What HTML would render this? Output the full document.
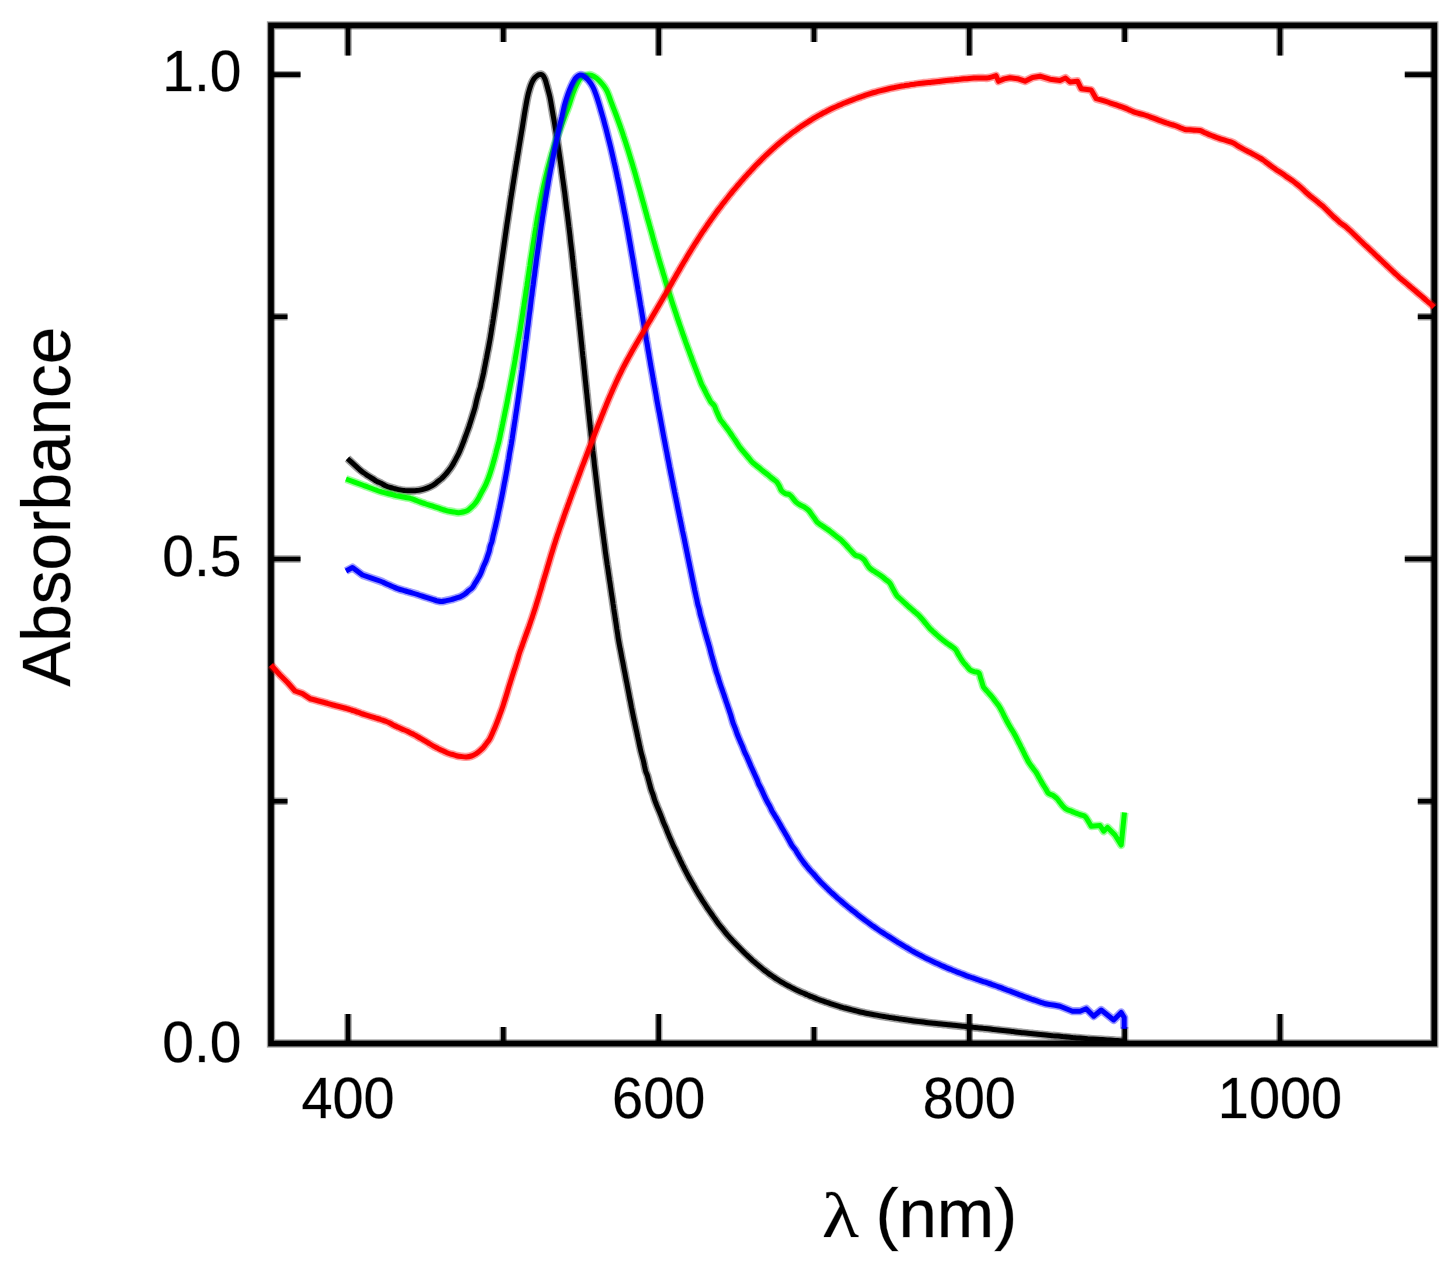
<!DOCTYPE html>
<html lang="en">
<head>
<meta charset="utf-8">
<title>Absorbance spectra</title>
<style>
html,body{margin:0;padding:0;background:#fff;}
body{width:1455px;height:1266px;overflow:hidden;}
svg{display:block;}
</style>
</head>
<body>
<svg width="1455" height="1266" viewBox="0 0 1455 1266">
<defs>
<path id="ticks" d="M348.0 25.4V55.4M348.0 1043.5V1014.0M658.7 25.4V55.4M658.7 1043.5V1014.0M969.3 25.4V55.4M969.3 1043.5V1014.0M1280.0 25.4V55.4M1280.0 1043.5V1014.0M503.3 25.4V41.9M503.3 1043.5V1027.0M814.0 25.4V41.9M814.0 1043.5V1027.0M1124.7 25.4V41.9M1124.7 1043.5V1027.0M271.0 559.0H300.5M1434.3 559.0H1404.8M271.0 74.6H300.5M1434.3 74.6H1404.8M271.0 801.3H287.5M1434.3 801.3H1417.8M271.0 316.8H287.5M1434.3 316.8H1417.8"/>
<rect id="frame" x="271.0" y="25.4" width="1163.3" height="1018.1"/>
<path id="c-black" d="M347.5 458.5C349.6 460.4 357.2 467.6 360.0 470.0C362.8 472.4 362.7 472.0 364.0 473.0C365.4 473.9 366.7 475.0 368.1 475.9C369.5 476.8 370.9 477.6 372.4 478.5C373.8 479.3 375.1 480.4 376.5 481.2C378.0 482.0 379.6 482.6 381.1 483.3C382.6 484.1 384.0 485.0 385.5 485.7C387.0 486.4 388.6 487.0 390.2 487.5C391.8 488.0 393.4 488.3 395.0 488.7C396.6 489.1 398.2 489.6 399.9 489.9C401.5 490.3 403.2 490.4 404.8 490.6C406.5 490.7 408.2 490.8 409.8 490.8C411.5 490.8 413.2 490.8 414.9 490.7C416.5 490.5 418.2 490.4 419.8 490.1C421.5 489.8 423.1 489.4 424.7 488.9C426.2 488.4 427.8 487.8 429.4 487.1C430.9 486.4 432.5 485.6 433.8 484.7C435.2 483.8 436.4 482.6 437.7 481.6C439.0 480.5 440.4 479.6 441.6 478.5C442.9 477.4 444.0 476.2 445.1 474.9C446.2 473.7 447.3 472.4 448.3 471.0C449.4 469.7 450.4 468.4 451.3 467.0C452.2 465.6 453.0 464.2 453.8 462.7C454.7 461.3 455.5 459.8 456.2 458.3C457.0 456.8 457.7 455.4 458.5 453.9C459.2 452.4 459.9 450.9 460.5 449.3C461.2 447.8 461.8 446.2 462.4 444.6C463.0 443.1 463.6 441.5 464.2 440.0C464.7 438.4 465.3 436.8 465.9 435.3C466.5 433.7 467.0 432.1 467.6 430.6C468.2 429.0 468.7 427.4 469.3 425.8C469.8 424.3 470.3 422.7 470.8 421.1C471.3 419.5 471.8 417.9 472.3 416.3C472.8 414.7 473.3 413.1 473.8 411.5C474.3 409.9 474.8 408.4 475.2 406.7C475.6 405.1 475.9 403.5 476.3 401.8C476.7 400.2 477.1 398.6 477.5 397.0C477.9 395.4 478.3 393.8 478.8 392.2C479.2 390.6 479.8 389.0 480.3 387.4C480.7 385.8 480.9 384.1 481.3 382.5C481.7 380.9 482.2 379.3 482.5 377.6C482.9 376.0 483.2 374.4 483.6 372.8C483.9 371.1 484.2 369.5 484.5 367.9C484.9 366.2 485.2 364.6 485.5 362.9C485.8 361.3 486.1 359.7 486.5 358.0C486.8 356.4 487.1 354.8 487.4 353.1C487.7 351.5 488.1 349.9 488.4 348.2C488.7 346.6 489.0 345.0 489.3 343.3C489.6 341.7 489.9 340.0 490.2 338.4C490.5 336.8 490.7 335.1 491.0 333.5C491.3 331.8 491.5 330.2 491.8 328.5C492.0 326.9 492.3 325.2 492.6 323.6C492.8 321.9 493.1 320.3 493.4 318.6C493.6 317.0 493.9 315.4 494.1 313.7C494.4 312.1 494.7 310.4 494.9 308.8C495.2 307.1 495.4 305.5 495.7 303.8C495.9 302.2 496.2 300.5 496.4 298.9C496.6 297.2 496.9 295.6 497.1 293.9C497.3 292.3 497.6 290.6 497.8 289.0C498.0 287.3 498.3 285.7 498.5 284.0C498.7 282.4 499.0 280.7 499.2 279.1C499.4 277.4 499.7 275.8 499.9 274.1C500.1 272.5 500.4 270.8 500.6 269.2C500.8 267.5 501.1 265.9 501.3 264.2C501.5 262.6 501.8 260.9 502.0 259.3C502.2 257.6 502.5 256.0 502.7 254.3C502.9 252.7 503.2 251.0 503.4 249.4C503.6 247.7 503.9 246.1 504.1 244.4C504.3 242.8 504.6 241.1 504.8 239.5C505.0 237.8 505.3 236.2 505.5 234.5C505.7 232.9 506.0 231.2 506.2 229.6C506.5 227.9 506.7 226.3 506.9 224.6C507.2 223.0 507.4 221.3 507.7 219.7C507.9 218.0 508.2 216.4 508.4 214.7C508.7 213.1 508.9 211.4 509.2 209.8C509.4 208.1 509.7 206.5 509.9 204.8C510.1 203.2 510.4 201.5 510.6 199.9C510.9 198.2 511.1 196.6 511.4 195.0C511.6 193.3 511.9 191.7 512.2 190.0C512.4 188.4 512.7 186.7 512.9 185.1C513.2 183.4 513.5 181.8 513.7 180.1C514.0 178.5 514.2 176.8 514.5 175.2C514.8 173.6 514.9 172.4 515.3 170.3C515.6 168.1 516.0 165.6 516.6 162.3C517.1 159.0 517.8 154.7 518.5 150.7C519.1 146.7 519.8 142.8 520.5 138.4C521.2 134.0 522.1 129.1 522.8 124.3C523.6 119.5 524.4 114.0 525.2 109.5C526.0 105.0 526.8 100.3 527.5 97.1C528.2 93.8 528.7 92.0 529.3 90.0C529.9 88.0 530.3 86.5 530.9 85.0C531.5 83.5 532.1 81.9 532.8 80.7C533.5 79.5 534.2 78.5 534.9 77.7C535.6 76.9 536.5 76.2 537.2 75.7C537.9 75.2 538.6 74.9 539.2 74.7C539.8 74.5 540.3 74.3 540.9 74.4C541.5 74.5 542.1 74.7 542.7 75.3C543.3 75.9 543.9 76.9 544.4 77.9C544.9 78.9 545.4 80.2 545.8 81.5C546.2 82.8 546.5 84.1 546.9 85.5C547.3 86.9 547.6 88.1 548.1 90.0C548.6 91.9 549.2 93.8 549.9 97.1C550.6 100.3 551.4 105.4 552.1 109.5C552.8 113.6 553.6 117.8 554.3 121.9C555.0 126.0 555.6 130.1 556.3 134.2C556.9 138.3 557.5 141.9 558.2 146.6C558.9 151.3 560.0 158.9 560.5 162.3C561.0 165.7 560.9 165.6 561.2 167.3C561.4 168.9 561.6 170.6 561.8 172.2C562.1 173.9 562.3 175.5 562.5 177.2C562.7 178.8 563.0 180.5 563.2 182.1C563.4 183.8 563.7 185.4 563.9 187.1C564.1 188.7 564.3 190.4 564.6 192.0C564.8 193.7 565.0 195.3 565.2 197.0C565.4 198.6 565.6 200.3 565.8 201.9C566.0 203.6 566.2 205.3 566.4 206.9C566.6 208.6 566.8 210.2 567.1 211.9C567.3 213.5 567.5 215.2 567.7 216.8C567.9 218.5 568.1 220.1 568.3 221.8C568.5 223.4 568.7 225.1 568.9 226.8C569.1 228.4 569.3 230.1 569.5 231.7C569.7 233.4 569.9 235.0 570.1 236.7C570.2 238.3 570.4 240.0 570.6 241.7C570.8 243.3 571.0 245.0 571.2 246.6C571.4 248.3 571.6 249.9 571.8 251.6C572.0 253.2 572.2 254.9 572.3 256.6C572.5 258.2 572.7 259.9 572.9 261.5C573.1 263.2 573.3 264.8 573.4 266.5C573.6 268.2 573.8 269.8 574.0 271.5C574.2 273.1 574.3 274.8 574.5 276.4C574.7 278.1 574.9 279.8 575.1 281.4C575.2 283.1 575.4 284.7 575.6 286.4C575.8 288.0 576.0 289.7 576.1 291.3C576.3 293.0 576.5 294.7 576.7 296.3C576.8 298.0 577.0 299.6 577.2 301.3C577.4 303.0 577.5 304.6 577.7 306.3C577.9 307.9 578.1 309.6 578.2 311.2C578.4 312.9 578.6 314.6 578.7 316.2C578.9 317.9 579.1 319.5 579.3 321.2C579.4 322.8 579.6 324.5 579.8 326.2C579.9 327.8 580.1 329.5 580.3 331.1C580.5 332.8 580.6 334.4 580.8 336.1C581.0 337.8 581.1 339.4 581.3 341.1C581.5 342.7 581.7 344.4 581.8 346.1C582.0 347.7 582.2 349.4 582.3 351.0C582.5 352.7 582.7 354.3 582.8 356.0C583.0 357.7 583.2 359.3 583.4 361.0C583.5 362.6 583.7 364.3 583.9 365.9C584.0 367.6 584.2 369.3 584.4 370.9C584.6 372.6 584.7 374.2 584.9 375.9C585.1 377.6 585.2 379.2 585.4 380.9C585.6 382.5 585.8 384.2 585.9 385.8C586.1 387.5 586.3 389.2 586.4 390.8C586.6 392.5 586.8 394.1 587.0 395.8C587.1 397.4 587.3 399.1 587.5 400.8C587.7 402.4 587.8 404.1 588.0 405.7C588.2 407.4 588.4 409.0 588.5 410.7C588.7 412.4 588.9 414.0 589.1 415.7C589.2 417.3 589.4 419.0 589.6 420.6C589.8 422.3 590.0 424.0 590.1 425.6C590.3 427.3 590.5 428.9 590.7 430.6C590.9 432.2 591.0 433.9 591.2 435.6C591.4 437.2 591.6 438.9 591.7 440.5C591.9 442.2 592.1 443.8 592.3 445.5C592.5 447.2 592.7 448.8 592.8 450.5C593.0 452.1 593.2 453.8 593.4 455.4C593.6 457.1 593.8 458.8 594.0 460.4C594.2 462.1 594.3 463.7 594.5 465.4C594.7 467.0 594.9 468.7 595.1 470.3C595.3 472.0 595.5 473.7 595.7 475.3C595.9 477.0 596.1 478.6 596.3 480.3C596.5 481.9 596.7 483.6 596.9 485.2C597.1 486.9 597.3 488.6 597.5 490.2C597.7 491.9 597.9 493.5 598.1 495.2C598.3 496.8 598.5 498.5 598.7 500.1C598.9 501.8 599.1 503.4 599.3 505.1C599.5 506.8 599.7 508.4 599.9 510.1C600.1 511.7 600.3 513.4 600.5 515.0C600.7 516.7 601.0 518.3 601.2 520.0C601.4 521.6 601.6 523.3 601.8 524.9C602.0 526.6 602.3 528.2 602.5 529.9C602.7 531.5 602.9 533.2 603.1 534.8C603.4 536.5 603.6 538.2 603.8 539.8C604.0 541.5 604.2 543.1 604.5 544.8C604.7 546.4 604.9 548.1 605.1 549.7C605.3 551.4 605.5 553.0 605.8 554.7C606.0 556.3 606.2 558.0 606.5 559.6C606.7 561.3 607.0 562.9 607.2 564.6C607.5 566.2 607.7 567.9 608.0 569.5C608.2 571.2 608.4 572.8 608.7 574.5C608.9 576.1 609.2 577.8 609.4 579.4C609.7 581.1 609.9 582.7 610.2 584.3C610.4 586.0 610.6 587.6 610.9 589.3C611.1 590.9 611.4 592.6 611.6 594.2C611.9 595.9 612.1 597.5 612.4 599.2C612.6 600.8 612.9 602.5 613.1 604.1C613.4 605.8 613.6 607.4 613.8 609.1C614.1 610.7 614.3 612.4 614.6 614.0C614.8 615.7 615.1 617.3 615.3 619.0C615.6 620.6 615.8 622.3 616.1 623.9C616.3 625.6 616.6 627.2 616.8 628.9C617.1 630.5 617.3 632.1 617.6 633.8C617.8 635.4 618.0 637.1 618.3 638.7C618.6 640.4 618.9 642.0 619.2 643.7C619.5 645.3 619.8 646.9 620.1 648.6C620.5 650.2 620.8 651.8 621.1 653.5C621.4 655.1 621.7 656.8 622.0 658.4C622.3 660.0 622.7 661.7 623.0 663.3C623.3 664.9 623.6 666.6 623.9 668.2C624.2 669.8 624.5 671.5 624.9 673.1C625.2 674.8 625.5 676.4 625.8 678.0C626.1 679.7 626.4 681.3 626.8 682.9C627.1 684.6 627.4 686.2 627.7 687.8C628.0 689.5 628.4 691.1 628.7 692.8C629.0 694.4 629.3 696.0 629.6 697.7C629.9 699.3 630.3 700.9 630.6 702.6C630.9 704.2 631.2 705.8 631.5 707.5C631.9 709.1 632.2 710.8 632.5 712.4C632.8 714.0 633.2 715.7 633.5 717.3C633.8 718.9 634.2 720.5 634.6 722.2C634.9 723.8 635.3 725.4 635.6 727.1C636.0 728.7 636.3 730.3 636.7 731.9C637.0 733.6 637.4 735.2 637.7 736.8C638.1 738.5 638.4 740.1 638.8 741.7C639.1 743.3 639.5 745.0 639.8 746.6C640.2 748.2 640.5 749.9 640.9 751.5C641.3 753.1 641.7 754.7 642.2 756.3C642.6 757.9 643.1 759.5 643.5 761.2C643.9 762.8 644.2 764.4 644.5 766.0C644.9 767.7 645.2 769.3 645.6 770.9C646.1 772.5 646.9 774.1 647.4 775.6C647.9 777.2 648.2 778.9 648.7 780.5C649.1 782.1 649.5 783.7 650.0 785.3C650.4 786.9 650.8 788.5 651.3 790.1C651.8 791.7 652.5 793.2 653.1 794.8C653.6 796.4 654.0 798.0 654.5 799.6C655.0 801.2 655.7 802.7 656.3 804.3C656.9 805.8 657.5 807.4 658.2 808.9C658.8 810.5 659.5 812.0 660.1 813.5C660.8 815.0 661.3 816.6 661.9 818.2C662.5 819.7 663.0 821.3 663.7 822.9C664.3 824.4 665.0 825.9 665.7 827.4C666.3 829.0 666.9 830.6 667.5 832.1C668.1 833.6 668.8 835.2 669.4 836.7C670.1 838.2 670.8 839.8 671.4 841.3C672.1 842.8 672.7 844.4 673.4 845.9C674.1 847.4 674.9 848.9 675.6 850.4C676.3 851.9 677.0 853.4 677.7 854.9C678.4 856.5 679.1 857.9 679.8 859.4C680.5 861.0 681.3 862.5 682.0 864.0C682.7 865.5 683.5 866.9 684.2 868.4C685.0 869.9 685.7 871.4 686.5 872.9C687.3 874.4 688.0 875.9 688.8 877.3C689.6 878.8 690.5 880.2 691.3 881.6C692.1 883.1 693.0 884.5 693.8 886.0C694.6 887.4 695.4 888.9 696.2 890.4C697.1 891.8 697.9 893.2 698.8 894.6C699.7 896.1 700.6 897.5 701.5 898.9C702.3 900.3 703.2 901.7 704.2 903.1C705.1 904.5 706.0 905.9 706.9 907.3C707.8 908.7 708.8 910.0 709.7 911.4C710.7 912.8 711.6 914.1 712.6 915.5C713.5 916.9 714.5 918.3 715.5 919.6C716.4 921.0 717.4 922.3 718.4 923.7C719.4 925.0 720.4 926.3 721.5 927.6C722.5 928.9 723.5 930.2 724.6 931.5C725.6 932.8 726.7 934.1 727.8 935.4C728.9 936.6 730.0 937.8 731.1 939.1C732.3 940.3 733.4 941.5 734.6 942.7C735.7 943.9 736.9 945.1 738.0 946.3C739.2 947.5 740.4 948.7 741.5 949.9C742.7 951.0 743.9 952.2 745.1 953.4C746.3 954.6 747.5 955.7 748.7 956.9C750.0 958.0 751.2 959.2 752.4 960.3C753.7 961.4 754.9 962.5 756.2 963.6C757.5 964.7 758.7 965.7 760.0 966.8C761.3 967.8 762.6 968.9 763.9 969.9C765.2 970.9 766.6 971.9 767.9 972.9C769.2 973.9 770.6 974.9 771.9 975.8C773.3 976.8 774.7 977.7 776.0 978.7C777.4 979.6 778.9 980.5 780.3 981.3C781.7 982.2 783.2 983.0 784.6 983.8C786.0 984.6 787.5 985.4 789.0 986.2C790.4 987.0 791.9 987.8 793.4 988.5C794.9 989.3 796.4 990.0 797.9 990.7C799.4 991.4 800.9 992.1 802.5 992.8C804.0 993.4 805.5 994.1 807.1 994.8C808.6 995.4 810.1 996.1 811.7 996.7C813.2 997.3 814.8 998.0 816.3 998.6C817.9 999.2 819.4 999.8 821.0 1000.4C822.6 1000.9 824.1 1001.5 825.7 1002.0C827.3 1002.6 828.9 1003.1 830.4 1003.7C832.0 1004.2 833.6 1004.7 835.2 1005.2C836.8 1005.7 838.4 1006.2 840.0 1006.7C841.6 1007.1 843.2 1007.6 844.8 1008.0C846.4 1008.5 848.0 1008.9 849.6 1009.3C851.2 1009.7 852.9 1010.1 854.5 1010.5C856.1 1010.9 857.7 1011.3 859.3 1011.7C861.0 1012.1 862.6 1012.4 864.2 1012.8C865.8 1013.1 867.5 1013.4 869.1 1013.8C870.8 1014.1 872.4 1014.4 874.0 1014.7C875.7 1015.0 877.3 1015.3 879.0 1015.6C880.6 1015.9 882.2 1016.2 883.9 1016.4C885.5 1016.7 887.2 1017.0 888.8 1017.3C890.5 1017.5 892.1 1017.8 893.8 1018.0C895.4 1018.3 897.1 1018.5 898.7 1018.8C900.4 1019.0 902.0 1019.3 903.7 1019.5C905.3 1019.8 907.0 1020.0 908.6 1020.2C910.3 1020.5 911.9 1020.7 913.6 1020.9C915.2 1021.1 916.9 1021.3 918.5 1021.5C920.2 1021.7 921.8 1021.9 923.5 1022.1C925.1 1022.3 926.8 1022.5 928.4 1022.7C930.1 1022.9 931.8 1023.1 933.4 1023.3C935.1 1023.5 936.7 1023.7 938.4 1023.8C940.0 1024.0 941.7 1024.2 943.4 1024.3C945.0 1024.5 946.7 1024.7 948.3 1024.8C950.0 1025.0 951.6 1025.2 953.3 1025.3C955.0 1025.5 956.6 1025.7 958.3 1025.8C959.9 1026.0 961.6 1026.1 963.3 1026.3C964.9 1026.5 966.6 1026.6 968.2 1026.8C969.9 1026.9 971.6 1027.1 973.2 1027.3C974.9 1027.4 976.5 1027.6 978.2 1027.8C979.8 1027.9 981.5 1028.1 983.2 1028.3C984.8 1028.4 986.5 1028.6 988.1 1028.8C989.8 1029.0 991.4 1029.2 993.1 1029.4C994.8 1029.6 996.4 1029.8 998.1 1029.9C999.7 1030.1 1001.4 1030.3 1003.0 1030.5C1004.7 1030.7 1006.3 1030.9 1008.0 1031.1C1009.7 1031.3 1011.3 1031.4 1013.0 1031.6C1014.6 1031.8 1016.3 1032.0 1017.9 1032.2C1019.6 1032.4 1021.3 1032.5 1022.9 1032.7C1024.6 1032.9 1026.2 1033.1 1027.9 1033.2C1029.5 1033.4 1031.2 1033.6 1032.9 1033.7C1034.5 1033.9 1036.2 1034.1 1037.8 1034.2C1039.5 1034.4 1041.2 1034.6 1042.8 1034.7C1044.5 1034.9 1046.1 1035.1 1047.8 1035.2C1049.4 1035.4 1051.1 1035.5 1052.8 1035.7C1054.4 1035.8 1056.1 1036.0 1057.7 1036.1C1059.4 1036.3 1061.1 1036.4 1062.7 1036.6C1064.4 1036.7 1066.0 1036.9 1067.7 1037.0C1069.4 1037.2 1071.0 1037.3 1072.7 1037.5C1074.3 1037.6 1076.0 1037.8 1077.7 1037.9C1079.3 1038.0 1081.0 1038.2 1082.6 1038.3C1084.3 1038.4 1086.0 1038.5 1087.6 1038.7C1089.3 1038.8 1091.0 1038.9 1092.6 1039.0C1094.3 1039.1 1096.0 1039.2 1097.6 1039.3C1099.3 1039.4 1100.9 1039.5 1102.6 1039.6C1104.3 1039.7 1105.9 1039.8 1107.6 1039.9C1109.3 1040.0 1110.9 1040.1 1112.6 1040.2C1114.2 1040.3 1115.9 1040.5 1117.6 1040.6C1119.2 1040.7 1121.5 1040.8 1122.6 1040.9C1123.6 1041.0 1123.8 1041.0 1124.0 1041.0"/>
<path id="c-green" d="M346.0 479.0C348.8 480.0 359.0 483.7 362.5 485.0C366.0 486.3 365.6 486.2 367.2 486.7C368.7 487.3 370.3 487.9 371.9 488.5C373.4 489.1 375.0 489.7 376.6 490.2C378.1 490.8 379.7 491.4 381.3 491.8C382.9 492.3 384.5 492.7 386.1 493.1C387.7 493.5 389.4 493.9 391.0 494.3C392.6 494.7 394.2 495.2 395.8 495.6C397.4 495.9 399.1 496.2 400.7 496.5C402.4 496.8 404.0 497.2 405.6 497.5C407.3 497.8 408.9 497.9 410.6 498.4C412.2 498.8 413.7 499.5 415.2 500.1C416.8 500.7 418.3 501.4 419.9 501.9C421.4 502.5 423.0 503.0 424.6 503.5C426.2 504.1 427.8 504.6 429.4 505.1C430.9 505.6 432.5 506.2 434.1 506.7C435.7 507.2 437.3 507.7 438.9 508.2C440.4 508.7 442.0 509.3 443.6 509.8C445.2 510.2 446.8 510.8 448.4 511.1C450.0 511.5 451.7 511.7 453.4 511.9C455.0 512.2 456.7 512.7 458.3 512.7C459.9 512.7 461.5 512.4 463.1 512.0C464.7 511.6 466.4 511.1 467.8 510.3C469.2 509.5 470.3 508.2 471.5 507.1C472.7 506.0 473.9 504.8 475.0 503.5C476.0 502.2 477.0 500.8 477.8 499.4C478.7 498.0 479.4 496.5 480.2 495.0C481.0 493.5 481.8 492.0 482.5 490.6C483.3 489.1 484.2 487.7 484.9 486.2C485.7 484.7 486.3 483.2 487.0 481.6C487.6 480.1 488.3 478.6 488.8 477.0C489.4 475.4 489.9 473.8 490.4 472.2C490.9 470.6 491.4 469.0 491.9 467.4C492.4 465.8 492.9 464.2 493.3 462.6C493.8 461.0 494.2 459.4 494.7 457.8C495.1 456.2 495.5 454.6 495.9 453.0C496.3 451.3 496.7 449.7 497.2 448.1C497.6 446.5 498.0 444.9 498.5 443.3C498.9 441.7 499.3 440.1 499.6 438.4C500.0 436.8 500.3 435.2 500.6 433.5C501.0 431.9 501.3 430.3 501.7 428.6C502.0 427.0 502.3 425.4 502.7 423.7C503.0 422.1 503.4 420.5 503.7 418.9C504.0 417.2 504.4 415.6 504.7 414.0C505.0 412.3 505.4 410.7 505.7 409.1C506.1 407.4 506.4 405.8 506.7 404.2C507.1 402.5 507.4 400.9 507.7 399.3C508.0 397.6 508.3 396.0 508.6 394.3C509.0 392.7 509.3 391.1 509.6 389.4C509.9 387.8 510.2 386.2 510.5 384.5C510.8 382.9 511.1 381.2 511.5 379.6C511.8 378.0 512.1 376.3 512.4 374.7C512.7 373.1 513.0 371.4 513.3 369.8C513.6 368.2 513.9 366.5 514.2 364.9C514.5 363.2 514.8 361.6 515.1 359.9C515.3 358.3 515.6 356.7 515.9 355.0C516.2 353.4 516.5 351.7 516.7 350.1C517.0 348.4 517.3 346.8 517.6 345.2C517.9 343.5 518.1 341.9 518.4 340.2C518.7 338.6 519.0 336.9 519.3 335.3C519.5 333.7 519.8 332.0 520.1 330.4C520.3 328.7 520.6 327.1 520.8 325.4C521.1 323.8 521.3 322.1 521.6 320.5C521.9 318.8 522.1 317.2 522.4 315.5C522.6 313.9 522.9 312.2 523.1 310.6C523.4 308.9 523.6 307.3 523.9 305.7C524.1 304.0 524.4 302.4 524.6 300.7C524.9 299.1 525.2 297.4 525.4 295.8C525.6 294.1 525.9 292.5 526.1 290.8C526.4 289.2 526.6 287.5 526.9 285.9C527.1 284.2 527.3 282.6 527.6 280.9C527.8 279.3 528.1 277.6 528.3 276.0C528.6 274.3 528.8 272.7 529.1 271.0C529.3 269.4 529.5 267.7 529.8 266.1C530.0 264.4 530.3 262.8 530.5 261.1C530.8 259.5 531.0 257.9 531.3 256.2C531.5 254.6 531.8 252.9 532.1 251.3C532.3 249.6 532.6 248.0 532.8 246.3C533.1 244.7 533.3 243.0 533.6 241.4C533.9 239.7 534.1 238.1 534.4 236.4C534.6 234.8 534.9 233.2 535.2 231.5C535.4 229.9 535.7 228.2 536.0 226.6C536.2 224.9 536.5 223.3 536.8 221.6C537.1 220.0 537.3 218.3 537.6 216.7C537.9 215.1 538.3 213.5 538.6 211.8C539.0 210.2 539.2 208.5 539.5 206.9C539.8 205.3 540.1 203.6 540.4 202.0C540.7 200.3 541.0 198.7 541.4 197.1C541.7 195.4 542.0 193.8 542.4 192.2C542.7 190.5 543.1 188.9 543.4 187.3C543.8 185.6 544.1 184.0 544.5 182.4C544.9 180.8 545.2 179.1 545.6 177.5C546.0 175.9 546.4 174.3 546.8 172.7C547.2 171.0 547.6 169.4 548.0 167.8C548.4 166.2 548.9 164.6 549.3 163.0C549.7 161.4 550.2 159.8 550.6 158.2C551.1 156.5 551.5 154.9 552.0 153.3C552.5 151.7 553.0 150.2 553.5 148.6C553.9 147.0 554.4 145.4 554.9 143.8C555.4 142.2 556.0 140.6 556.5 139.0C557.0 137.5 556.8 137.9 558.1 134.3C559.4 130.7 562.5 122.4 564.3 117.7C566.0 113.0 567.2 110.3 568.7 106.2C570.1 102.1 571.6 96.7 573.0 93.0C574.4 89.3 575.7 86.4 577.0 83.9C578.2 81.4 579.3 79.4 580.5 78.1C581.8 76.8 583.2 76.3 584.5 75.8C585.8 75.3 587.3 75.1 588.5 75.0C589.7 74.9 590.1 74.8 591.5 75.3C592.9 75.8 594.8 76.9 596.6 78.3C598.4 79.7 600.5 82.0 602.1 83.8C603.7 85.6 604.9 87.4 606.0 89.3C607.1 91.2 607.7 92.6 608.6 94.9C609.5 97.2 610.5 100.4 611.6 103.2C612.6 106.0 613.7 108.7 614.8 111.5C615.9 114.3 616.9 117.0 617.9 119.8C618.9 122.5 619.9 125.2 620.8 128.0C621.8 130.8 622.9 134.1 623.6 136.3C624.4 138.5 624.7 139.5 625.2 141.1C625.7 142.6 626.2 144.2 626.7 145.8C627.2 147.4 627.7 149.0 628.2 150.6C628.7 152.2 629.2 153.8 629.7 155.4C630.2 157.0 630.6 158.6 631.1 160.1C631.6 161.7 632.1 163.3 632.6 164.9C633.0 166.5 633.5 168.1 634.0 169.7C634.4 171.3 634.9 172.9 635.4 174.5C635.8 176.1 636.3 177.7 636.7 179.3C637.2 180.9 637.6 182.6 638.1 184.2C638.5 185.8 639.0 187.4 639.5 189.0C639.9 190.6 640.4 192.2 640.8 193.8C641.2 195.4 641.7 197.0 642.1 198.6C642.5 200.2 643.0 201.8 643.5 203.4C643.9 205.0 644.3 206.6 644.8 208.2C645.2 209.9 645.7 211.5 646.1 213.1C646.6 214.7 647.0 216.3 647.4 217.9C647.9 219.5 648.3 221.1 648.8 222.7C649.2 224.3 649.7 225.9 650.1 227.5C650.6 229.1 651.0 230.7 651.5 232.3C651.9 233.9 652.4 235.5 652.8 237.2C653.2 238.8 653.7 240.4 654.1 242.0C654.6 243.6 655.0 245.2 655.5 246.8C655.9 248.4 656.4 250.0 656.9 251.6C657.3 253.2 657.8 254.8 658.2 256.4C658.7 258.0 659.2 259.6 659.6 261.2C660.1 262.8 660.6 264.4 661.0 266.0C661.5 267.6 662.0 269.2 662.5 270.8C662.9 272.4 663.4 274.0 663.9 275.6C664.4 277.2 664.9 278.8 665.3 280.4C665.8 282.0 666.3 283.6 666.8 285.2C667.3 286.7 667.8 288.3 668.3 289.9C668.8 291.5 669.3 293.1 669.8 294.7C670.3 296.3 670.8 297.9 671.3 299.5C671.8 301.0 672.3 302.6 672.8 304.2C673.3 305.8 673.9 307.4 674.4 309.0C674.9 310.6 675.4 312.1 676.0 313.7C676.5 315.3 677.0 316.9 677.5 318.5C678.1 320.0 678.6 321.6 679.1 323.2C679.7 324.8 680.2 326.4 680.8 327.9C681.3 329.5 681.9 331.1 682.4 332.7C683.0 334.2 683.5 335.8 684.1 337.4C684.6 338.9 685.2 340.5 685.7 342.1C686.3 343.6 686.9 345.2 687.4 346.8C688.0 348.3 688.6 349.9 689.2 351.5C689.7 353.0 690.3 354.6 690.9 356.2C691.5 357.7 692.0 359.3 692.6 360.9C693.2 362.4 693.8 364.0 694.4 365.5C695.0 367.1 695.6 368.6 696.2 370.2C696.8 371.8 697.4 373.3 698.0 374.9C698.6 376.4 699.2 378.0 699.8 379.5C700.4 381.1 701.0 382.7 701.6 384.2C702.3 385.7 703.1 387.2 703.9 388.6C704.6 390.1 705.4 391.6 706.1 393.1C706.9 394.6 707.6 396.1 708.4 397.6C709.2 399.0 709.9 400.6 710.8 401.9C711.8 403.2 713.3 404.3 714.2 405.6C715.0 407.0 715.5 408.7 716.1 410.2C716.8 411.7 717.4 413.3 718.1 414.8C718.7 416.3 719.4 417.9 720.2 419.3C721.1 420.7 722.2 422.0 723.2 423.3C724.2 424.7 725.2 426.0 726.2 427.3C727.2 428.7 728.2 430.0 729.2 431.4C730.1 432.7 731.0 434.1 732.0 435.5C732.9 436.9 733.8 438.2 734.8 439.6C735.7 441.0 736.6 442.4 737.5 443.8C738.5 445.2 739.3 446.6 740.4 447.9C741.4 449.2 742.5 450.5 743.6 451.8C744.6 453.0 745.7 454.3 746.8 455.6C747.8 456.9 748.9 458.2 750.0 459.4C751.0 460.7 752.1 462.0 753.3 463.1C754.5 464.3 755.9 465.2 757.2 466.3C758.5 467.3 759.8 468.3 761.1 469.4C762.4 470.4 763.7 471.5 765.0 472.5C766.3 473.6 767.6 474.6 768.9 475.6C770.2 476.7 771.5 477.7 772.8 478.8C774.1 479.8 775.6 480.7 776.7 481.9C777.8 483.1 778.5 484.6 779.3 486.1C780.1 487.5 780.5 489.3 781.5 490.6C782.5 491.8 783.8 492.7 785.2 493.4C786.6 494.1 788.6 494.1 789.9 495.0C791.3 495.9 792.1 497.5 793.2 498.7C794.3 500.0 795.3 501.4 796.5 502.5C797.7 503.6 799.1 504.4 800.6 505.2C802.0 506.1 803.7 506.6 805.0 507.5C806.4 508.4 807.7 509.3 808.8 510.5C809.9 511.7 810.8 513.2 811.8 514.6C812.7 515.9 813.7 517.3 814.7 518.6C815.7 520.0 816.5 521.5 817.7 522.6C818.9 523.8 820.4 524.5 821.8 525.5C823.1 526.4 824.5 527.4 825.9 528.3C827.3 529.3 828.7 530.2 830.0 531.2C831.3 532.2 832.6 533.3 833.9 534.3C835.2 535.4 836.5 536.4 837.8 537.4C839.1 538.5 840.5 539.4 841.7 540.6C842.9 541.7 844.0 542.9 845.2 544.1C846.3 545.4 847.4 546.6 848.5 547.9C849.6 549.1 850.7 550.3 851.9 551.6C853.0 552.8 854.0 554.3 855.3 555.1C856.7 556.0 858.7 556.0 860.1 556.7C861.5 557.4 862.8 558.4 863.9 559.5C865.0 560.7 865.7 562.3 866.6 563.7C867.6 565.1 868.3 566.7 869.4 567.8C870.5 569.0 872.0 569.9 873.4 570.8C874.7 571.8 876.2 572.6 877.6 573.5C879.0 574.4 880.3 575.3 881.7 576.3C883.0 577.3 884.3 578.4 885.6 579.5C886.9 580.5 888.4 581.4 889.5 582.6C890.6 583.8 891.2 585.4 892.0 586.9C892.8 588.3 893.5 589.9 894.3 591.3C895.1 592.8 895.8 594.3 896.8 595.6C897.8 596.8 899.3 597.8 900.5 599.0C901.7 600.1 902.9 601.2 904.1 602.4C905.4 603.5 906.6 604.7 907.8 605.8C909.0 606.9 910.3 608.0 911.6 609.1C912.8 610.2 914.1 611.3 915.3 612.4C916.6 613.5 917.9 614.5 919.1 615.7C920.2 616.9 921.3 618.1 922.4 619.4C923.5 620.7 924.5 622.0 925.6 623.3C926.6 624.6 927.6 625.9 928.7 627.1C929.8 628.4 931.0 629.6 932.2 630.7C933.4 631.9 934.7 632.9 935.9 634.1C937.2 635.2 938.4 636.3 939.6 637.4C940.9 638.5 942.1 639.6 943.4 640.6C944.8 641.7 946.2 642.6 947.5 643.5C948.9 644.5 950.3 645.4 951.6 646.4C953.0 647.4 954.4 648.2 955.5 649.5C956.5 650.7 957.2 652.3 958.0 653.8C958.9 655.2 959.7 656.6 960.6 658.1C961.5 659.5 962.4 660.9 963.4 662.2C964.4 663.5 965.6 664.7 966.7 666.0C967.7 667.2 968.7 668.8 969.9 669.7C971.2 670.7 972.7 671.2 974.2 671.7C975.7 672.3 977.8 671.9 978.8 672.9C979.9 673.9 979.9 676.1 980.4 677.7C981.0 679.3 981.5 680.8 982.0 682.4C982.5 684.0 982.8 685.7 983.6 687.2C984.4 688.6 985.7 689.7 986.8 691.0C987.9 692.3 989.0 693.5 990.1 694.7C991.2 696.0 992.3 697.3 993.3 698.6C994.3 699.9 995.3 701.2 996.3 702.6C997.3 703.9 998.4 705.2 999.3 706.6C1000.2 708.0 1000.9 709.5 1001.7 710.9C1002.5 712.4 1003.2 713.9 1003.9 715.4C1004.7 716.9 1005.4 718.4 1006.2 719.9C1007.0 721.3 1007.7 722.8 1008.6 724.3C1009.4 725.7 1010.3 727.1 1011.1 728.6C1012.0 730.0 1012.9 731.4 1013.7 732.8C1014.5 734.3 1015.3 735.7 1016.1 737.2C1016.9 738.7 1017.6 740.2 1018.3 741.7C1019.1 743.2 1019.8 744.7 1020.6 746.2C1021.3 747.7 1022.1 749.1 1022.8 750.6C1023.6 752.1 1024.3 753.6 1025.0 755.1C1025.8 756.6 1026.5 758.1 1027.3 759.6C1028.0 761.1 1028.8 762.5 1029.8 763.9C1030.7 765.3 1031.8 766.6 1032.8 767.9C1033.8 769.2 1034.8 770.5 1035.8 771.9C1036.7 773.3 1037.5 774.8 1038.3 776.2C1039.1 777.7 1039.9 779.1 1040.7 780.6C1041.6 782.0 1042.4 783.5 1043.2 784.9C1044.1 786.3 1045.0 787.7 1045.9 789.1C1046.8 790.6 1047.3 792.4 1048.5 793.4C1049.7 794.4 1051.6 794.6 1053.0 795.4C1054.4 796.3 1055.6 797.3 1056.8 798.4C1057.9 799.6 1058.9 801.0 1059.9 802.3C1061.0 803.6 1061.9 805.1 1063.0 806.2C1064.2 807.4 1065.3 808.6 1066.7 809.4C1068.1 810.2 1069.8 810.6 1071.4 811.2C1072.9 811.9 1074.5 812.5 1076.0 813.1C1077.6 813.7 1079.1 814.3 1080.7 814.9C1082.2 815.5 1083.6 814.8 1085.3 816.7C1087.1 818.6 1090.2 824.6 1091.2 826.2L1100.0 825.5L1103.7 831.2L1107.5 827.5L1115.0 835.0L1121.2 845.0L1124.5 812.5"/>
<path id="c-blue" d="M346.0 571.0L352.5 567.5L362.5 575.0C365.4 576.0 376.3 579.7 380.0 581.0C383.7 582.3 383.1 582.3 384.6 583.0C386.1 583.7 387.6 584.4 389.2 585.0C390.7 585.7 392.2 586.4 393.7 587.0C395.3 587.7 396.8 588.4 398.3 588.9C399.9 589.5 401.6 589.9 403.2 590.3C404.8 590.8 406.4 591.2 408.0 591.7C409.6 592.1 411.2 592.6 412.8 593.1C414.4 593.5 416.0 594.0 417.5 594.5C419.1 595.1 420.7 595.6 422.3 596.1C423.9 596.7 425.4 597.2 427.0 597.7C428.6 598.2 430.2 598.7 431.8 599.2C433.4 599.7 435.0 600.3 436.6 600.7C438.2 601.0 439.8 601.5 441.4 601.5C443.0 601.5 444.7 600.9 446.3 600.6C448.0 600.3 449.6 600.0 451.2 599.6C452.8 599.2 454.4 598.6 456.0 598.1C457.6 597.6 459.3 597.2 460.7 596.6C462.2 595.9 463.6 594.9 464.9 594.0C466.2 593.0 467.4 591.8 468.7 590.7C470.0 589.6 471.5 588.7 472.5 587.5C473.6 586.2 474.2 584.6 475.1 583.2C476.0 581.8 476.9 580.3 477.7 578.9C478.6 577.5 479.5 576.1 480.2 574.6C481.0 573.1 481.5 571.5 482.1 570.0C482.7 568.4 483.2 566.8 483.9 565.3C484.5 563.8 485.4 562.3 486.0 560.8C486.6 559.2 487.1 557.6 487.6 556.0C488.2 554.5 488.7 552.9 489.2 551.3C489.6 549.7 489.8 548.0 490.2 546.4C490.7 544.8 491.4 543.3 491.9 541.6C492.3 540.0 492.6 538.4 492.9 536.7C493.3 535.1 493.7 533.5 494.1 531.9C494.5 530.2 494.9 528.6 495.3 527.0C495.7 525.4 496.0 523.8 496.4 522.2C496.8 520.5 497.2 518.9 497.5 517.3C497.9 515.6 498.2 514.0 498.5 512.4C498.9 510.7 499.2 509.1 499.6 507.5C499.9 505.9 500.3 504.2 500.6 502.6C500.9 501.0 501.3 499.3 501.6 497.7C501.9 496.1 502.3 494.4 502.6 492.8C502.9 491.2 503.2 489.5 503.5 487.9C503.8 486.2 504.1 484.6 504.4 483.0C504.8 481.3 505.1 479.7 505.4 478.0C505.7 476.4 506.0 474.8 506.3 473.1C506.6 471.5 506.9 469.9 507.2 468.2C507.4 466.6 507.7 464.9 508.0 463.3C508.3 461.6 508.6 460.0 508.9 458.4C509.1 456.7 509.4 455.1 509.6 453.4C509.9 451.8 510.2 450.1 510.5 448.5C510.8 446.8 511.1 445.2 511.4 443.6C511.6 441.9 511.9 440.3 512.2 438.6C512.4 437.0 512.7 435.3 512.9 433.7C513.2 432.0 513.4 430.4 513.7 428.7C513.9 427.1 514.2 425.5 514.4 423.8C514.7 422.2 514.9 420.5 515.2 418.9C515.4 417.2 515.7 415.6 515.9 413.9C516.2 412.3 516.4 410.6 516.7 409.0C516.9 407.3 517.2 405.7 517.4 404.0C517.7 402.4 517.9 400.7 518.1 399.1C518.4 397.4 518.6 395.8 518.8 394.1C519.1 392.5 519.3 390.8 519.5 389.2C519.7 387.5 520.0 385.9 520.2 384.2C520.4 382.6 520.7 380.9 520.9 379.3C521.1 377.6 521.3 376.0 521.6 374.3C521.8 372.7 522.0 371.0 522.3 369.4C522.5 367.7 522.7 366.1 522.9 364.4C523.1 362.8 523.4 361.1 523.6 359.5C523.8 357.8 524.0 356.1 524.2 354.5C524.4 352.8 524.6 351.2 524.9 349.5C525.1 347.9 525.3 346.2 525.5 344.6C525.7 342.9 525.9 341.3 526.2 339.6C526.4 338.0 526.6 336.3 526.8 334.7C527.0 333.0 527.2 331.4 527.4 329.7C527.6 328.0 527.9 326.4 528.1 324.7C528.3 323.1 528.5 321.4 528.7 319.8C528.9 318.1 529.1 316.5 529.3 314.8C529.5 313.2 529.8 311.5 530.0 309.9C530.2 308.2 530.4 306.6 530.6 304.9C530.8 303.2 531.0 301.6 531.2 299.9C531.4 298.3 531.6 296.6 531.9 295.0C532.1 293.3 532.3 291.7 532.5 290.0C532.7 288.4 532.9 286.7 533.2 285.1C533.4 283.4 533.6 281.8 533.8 280.1C534.0 278.5 534.2 276.8 534.5 275.2C534.7 273.5 534.9 271.8 535.1 270.2C535.3 268.5 535.5 266.9 535.8 265.2C536.0 263.6 536.2 261.9 536.4 260.3C536.6 258.6 536.9 257.0 537.1 255.3C537.3 253.7 537.6 252.0 537.8 250.4C538.0 248.7 538.3 247.1 538.5 245.4C538.7 243.8 539.0 242.1 539.2 240.5C539.4 238.8 539.7 237.2 539.9 235.5C540.1 233.9 540.4 232.2 540.6 230.6C540.8 228.9 541.1 227.3 541.3 225.6C541.6 224.0 541.8 222.3 542.1 220.7C542.3 219.0 542.5 217.4 542.8 215.7C543.1 214.1 543.4 212.5 543.6 210.8C543.9 209.2 544.1 207.5 544.4 205.9C544.6 204.2 544.9 202.6 545.2 200.9C545.4 199.3 545.7 197.6 546.0 196.0C546.3 194.3 546.6 192.7 546.8 191.1C547.1 189.4 547.4 187.8 547.7 186.1C548.0 184.5 548.2 182.8 548.5 181.2C548.8 179.6 549.1 177.9 549.4 176.3C549.7 174.6 550.0 173.0 550.3 171.4C550.6 169.7 550.9 168.1 551.3 166.5C551.6 164.8 551.9 163.2 552.2 161.5C552.5 159.9 552.8 158.4 553.1 156.6C553.5 154.8 553.7 153.7 554.3 150.7C555.0 147.7 556.0 142.5 556.9 138.4C557.8 134.3 558.9 129.6 559.7 126.0C560.5 122.4 561.0 120.5 561.9 116.9C562.7 113.3 563.7 108.2 564.7 104.5C565.7 100.8 566.7 97.8 567.8 94.6C568.9 91.4 570.2 88.2 571.4 85.6C572.6 83.0 573.8 80.8 574.8 79.2C575.8 77.7 576.7 77.0 577.6 76.3C578.5 75.6 579.4 75.2 580.2 75.0C581.0 74.8 581.6 74.9 582.3 75.2C583.0 75.5 583.6 75.9 584.6 76.7C585.6 77.5 586.9 78.6 588.3 80.2C589.6 81.8 591.4 84.1 592.7 86.6C594.0 89.0 595.1 92.1 596.1 94.9C597.1 97.7 597.9 100.4 598.8 103.2C599.7 106.0 600.4 108.7 601.2 111.5C602.0 114.3 602.8 117.0 603.6 119.8C604.3 122.5 605.0 125.2 605.8 128.0C606.5 130.8 607.1 133.1 607.9 136.3C608.7 139.5 609.6 143.1 610.7 147.4C611.7 151.7 613.4 159.0 614.1 162.3C614.9 165.6 614.9 165.6 615.2 167.2C615.6 168.8 615.9 170.4 616.3 172.1C616.6 173.7 617.0 175.3 617.3 177.0C617.7 178.6 618.0 180.2 618.4 181.8C618.7 183.5 619.1 185.1 619.4 186.7C619.7 188.4 620.1 190.0 620.4 191.6C620.7 193.3 621.0 194.9 621.4 196.5C621.7 198.2 622.0 199.8 622.3 201.5C622.7 203.1 623.0 204.7 623.3 206.4C623.6 208.0 623.9 209.6 624.2 211.3C624.5 212.9 624.9 214.5 625.2 216.2C625.5 217.8 625.8 219.5 626.1 221.1C626.4 222.7 626.7 224.4 627.0 226.0C627.3 227.7 627.6 229.3 627.9 230.9C628.2 232.6 628.5 234.2 628.8 235.9C629.0 237.5 629.3 239.1 629.6 240.8C629.9 242.4 630.2 244.1 630.5 245.7C630.8 247.3 631.0 249.0 631.3 250.6C631.6 252.3 631.9 253.9 632.2 255.6C632.5 257.2 632.8 258.8 633.1 260.5C633.3 262.1 633.6 263.8 633.9 265.4C634.2 267.1 634.4 268.7 634.7 270.3C635.0 272.0 635.3 273.6 635.5 275.3C635.8 276.9 636.1 278.6 636.4 280.2C636.7 281.8 636.9 283.5 637.2 285.1C637.5 286.8 637.8 288.4 638.0 290.1C638.3 291.7 638.6 293.4 638.9 295.0C639.2 296.6 639.4 298.3 639.7 299.9C640.0 301.6 640.3 303.2 640.5 304.9C640.8 306.5 641.1 308.1 641.4 309.8C641.6 311.4 641.9 313.1 642.2 314.7C642.5 316.4 642.7 318.0 643.0 319.7C643.3 321.3 643.6 322.9 643.8 324.6C644.1 326.2 644.4 327.9 644.7 329.5C644.9 331.2 645.2 332.8 645.5 334.4C645.8 336.1 646.1 337.7 646.3 339.4C646.6 341.0 646.9 342.7 647.2 344.3C647.5 345.9 647.7 347.6 648.0 349.2C648.3 350.9 648.6 352.5 648.9 354.2C649.1 355.8 649.4 357.4 649.7 359.1C650.0 360.7 650.3 362.4 650.5 364.0C650.8 365.7 651.1 367.3 651.4 368.9C651.7 370.6 652.0 372.2 652.3 373.9C652.6 375.5 652.9 377.1 653.1 378.8C653.4 380.4 653.7 382.1 654.0 383.7C654.3 385.4 654.6 387.0 654.9 388.6C655.2 390.3 655.5 391.9 655.8 393.6C656.1 395.2 656.4 396.8 656.6 398.5C656.9 400.1 657.2 401.8 657.5 403.4C657.8 405.0 658.1 406.7 658.4 408.3C658.7 410.0 659.0 411.6 659.4 413.2C659.7 414.9 660.0 416.5 660.3 418.2C660.6 419.8 660.9 421.4 661.2 423.1C661.5 424.7 661.8 426.3 662.1 428.0C662.4 429.6 662.7 431.3 663.0 432.9C663.3 434.5 663.6 436.2 663.9 437.8C664.2 439.4 664.6 441.1 664.9 442.7C665.2 444.4 665.5 446.0 665.8 447.6C666.1 449.3 666.4 450.9 666.8 452.5C667.1 454.2 667.4 455.8 667.7 457.5C668.0 459.1 668.4 460.7 668.7 462.4C669.0 464.0 669.3 465.6 669.6 467.3C670.0 468.9 670.3 470.5 670.6 472.2C670.9 473.8 671.3 475.4 671.6 477.1C671.9 478.7 672.2 480.3 672.6 482.0C672.9 483.6 673.2 485.2 673.5 486.9C673.9 488.5 674.2 490.1 674.5 491.8C674.9 493.4 675.2 495.0 675.5 496.7C675.9 498.3 676.2 499.9 676.5 501.6C676.9 503.2 677.2 504.8 677.5 506.5C677.8 508.1 678.2 509.7 678.5 511.4C678.8 513.0 679.2 514.6 679.5 516.3C679.9 517.9 680.2 519.5 680.5 521.2C680.9 522.8 681.2 524.4 681.5 526.1C681.9 527.7 682.2 529.3 682.5 531.0C682.9 532.6 683.2 534.2 683.6 535.9C683.9 537.5 684.3 539.1 684.6 540.8C684.9 542.4 685.3 544.0 685.6 545.7C685.9 547.3 686.3 548.9 686.6 550.6C686.9 552.2 687.3 553.8 687.6 555.5C687.9 557.1 688.3 558.7 688.6 560.4C688.9 562.0 689.3 563.6 689.6 565.3C689.9 566.9 690.3 568.5 690.6 570.1C690.9 571.8 691.3 573.4 691.6 575.0C691.9 576.7 692.3 578.3 692.6 579.9C692.9 581.6 693.3 583.2 693.6 584.8C693.9 586.5 694.3 588.1 694.6 589.7C695.0 591.4 695.3 593.0 695.7 594.6C696.0 596.3 696.4 597.9 696.8 599.5C697.1 601.1 697.4 602.8 697.8 604.4C698.2 606.0 698.8 607.6 699.2 609.2C699.6 610.8 699.8 612.5 700.2 614.1C700.6 615.7 701.1 617.3 701.6 618.9C702.0 620.5 702.4 622.1 702.9 623.7C703.3 625.4 703.7 627.0 704.2 628.6C704.6 630.2 705.0 631.8 705.5 633.4C706.0 635.0 706.4 636.6 706.9 638.2C707.4 639.8 707.9 641.4 708.3 643.0C708.8 644.6 709.2 646.2 709.7 647.8C710.1 649.4 710.5 651.0 710.9 652.7C711.3 654.3 711.8 655.9 712.2 657.5C712.7 659.1 713.1 660.7 713.6 662.3C714.0 663.9 714.5 665.5 714.9 667.1C715.4 668.7 715.8 670.3 716.3 671.9C716.8 673.5 717.4 675.0 717.9 676.6C718.4 678.2 718.8 679.9 719.3 681.4C719.8 683.0 720.4 684.6 720.9 686.2C721.5 687.7 722.0 689.3 722.6 690.9C723.1 692.5 723.7 694.1 724.2 695.6C724.7 697.2 725.3 698.8 725.8 700.4C726.3 702.0 726.9 703.5 727.4 705.1C727.9 706.7 728.5 708.3 729.0 709.8C729.5 711.4 730.1 713.0 730.6 714.6C731.1 716.2 731.5 717.8 732.0 719.4C732.5 721.0 732.9 722.6 733.5 724.2C734.1 725.7 734.8 727.2 735.4 728.8C736.0 730.4 736.4 732.0 737.0 733.5C737.6 735.1 738.2 736.6 738.9 738.2C739.5 739.7 740.2 741.2 740.8 742.8C741.5 744.3 742.2 745.8 742.8 747.3C743.4 748.9 743.9 750.5 744.6 752.0C745.3 753.6 746.1 755.0 746.8 756.5C747.5 758.1 748.1 759.6 748.8 761.1C749.4 762.7 750.1 764.2 750.7 765.7C751.4 767.2 752.1 768.8 752.8 770.3C753.5 771.8 754.1 773.3 754.8 774.8C755.5 776.4 756.3 777.8 756.9 779.4C757.6 780.9 758.0 782.6 758.7 784.1C759.4 785.6 760.3 787.0 761.0 788.5C761.8 790.0 762.4 791.5 763.1 793.0C763.8 794.6 764.5 796.1 765.2 797.6C765.9 799.1 766.7 800.6 767.4 802.1C768.2 803.5 769.1 804.9 769.9 806.4C770.7 807.9 771.3 809.5 772.0 810.9C772.8 812.4 773.8 813.8 774.6 815.2C775.5 816.7 776.4 818.1 777.2 819.5C778.1 820.9 778.9 822.4 779.7 823.8C780.5 825.3 781.3 826.8 782.1 828.2C783.0 829.6 783.8 831.1 784.7 832.5C785.5 833.9 786.4 835.4 787.2 836.8C788.0 838.3 788.8 839.7 789.6 841.2C790.5 842.7 791.1 844.2 792.1 845.6C793.0 847.0 794.2 848.2 795.2 849.5C796.1 850.9 796.9 852.4 797.8 853.8C798.7 855.2 799.5 856.6 800.5 858.0C801.4 859.4 802.4 860.7 803.4 862.0C804.4 863.4 805.5 864.7 806.5 866.0C807.6 867.3 808.6 868.6 809.7 869.8C810.8 871.1 812.1 872.2 813.2 873.5C814.3 874.7 815.3 876.0 816.4 877.3C817.4 878.6 818.6 879.8 819.7 881.0C820.8 882.2 822.0 883.4 823.2 884.6C824.4 885.8 825.6 887.0 826.8 888.1C828.0 889.3 829.2 890.4 830.4 891.6C831.6 892.7 832.9 893.8 834.1 894.9C835.3 896.0 836.6 897.2 837.8 898.3C839.1 899.4 840.3 900.4 841.6 901.5C842.9 902.6 844.1 903.7 845.4 904.8C846.7 905.8 848.0 906.9 849.3 907.9C850.6 909.0 851.9 910.0 853.2 911.1C854.5 912.1 855.8 913.1 857.1 914.2C858.4 915.2 859.7 916.2 861.0 917.2C862.4 918.3 863.7 919.3 865.0 920.3C866.4 921.3 867.7 922.2 869.1 923.2C870.4 924.2 871.7 925.2 873.1 926.2C874.5 927.1 875.8 928.1 877.2 929.0C878.6 930.0 880.0 930.9 881.4 931.8C882.8 932.7 884.1 933.6 885.5 934.5C886.9 935.4 888.4 936.3 889.8 937.2C891.2 938.1 892.6 939.0 894.0 939.9C895.4 940.8 896.8 941.7 898.2 942.6C899.7 943.4 901.1 944.3 902.5 945.2C903.9 946.1 905.3 946.9 906.8 947.7C908.2 948.6 909.6 949.5 911.1 950.3C912.5 951.1 914.0 951.9 915.4 952.7C916.9 953.5 918.4 954.3 919.9 955.1C921.3 955.8 922.8 956.6 924.3 957.4C925.8 958.1 927.3 958.8 928.8 959.6C930.3 960.3 931.8 961.0 933.3 961.7C934.8 962.4 936.3 963.1 937.9 963.8C939.4 964.5 940.9 965.2 942.4 965.9C943.9 966.5 945.5 967.2 947.0 967.9C948.5 968.5 950.1 969.2 951.6 969.8C953.1 970.4 954.7 971.1 956.2 971.7C957.8 972.3 959.3 972.9 960.9 973.5C962.5 974.1 964.0 974.7 965.6 975.3C967.1 975.9 968.7 976.4 970.3 977.0C971.8 977.6 973.4 978.1 975.0 978.7C976.5 979.2 978.1 979.8 979.7 980.3C981.3 980.9 982.9 981.4 984.4 981.9C986.0 982.4 987.6 983.0 989.2 983.5C990.8 984.0 992.3 984.6 993.9 985.1C995.5 985.7 997.0 986.3 998.6 986.8C1000.2 987.4 1001.7 988.0 1003.3 988.6C1004.9 989.1 1006.4 989.8 1008.0 990.4C1009.5 990.9 1011.1 991.5 1012.6 992.1C1014.2 992.7 1015.8 993.3 1017.3 993.9C1018.9 994.5 1020.4 995.1 1022.0 995.7C1023.6 996.3 1025.1 996.9 1026.7 997.4C1028.2 998.0 1029.8 998.6 1031.4 999.2C1032.9 999.7 1034.5 1000.2 1036.1 1000.7C1037.7 1001.3 1039.3 1001.8 1040.9 1002.3C1042.4 1002.8 1044.0 1003.4 1045.6 1003.8C1047.2 1004.2 1048.2 1004.2 1050.6 1004.6C1053.0 1005.0 1058.4 1005.9 1060.0 1006.2L1072.5 1011.2L1080.0 1011.2L1086.2 1008.7L1093.7 1016.2L1101.2 1010.0L1107.5 1015.0L1113.7 1020.0L1121.2 1012.5L1124.2 1017.5L1124.2 1028.7"/>
<path id="c-red" d="M271.0 665.0L280.0 675.0L287.5 682.5L295.0 691.0L302.5 693.7L310.0 698.7C312.1 699.2 319.6 701.2 322.5 702.0C325.4 702.8 325.7 702.9 327.3 703.3C328.9 703.8 330.5 704.3 332.1 704.7C333.7 705.1 335.3 705.6 337.0 706.0C338.6 706.4 340.2 706.8 341.8 707.2C343.4 707.6 345.0 708.0 346.6 708.5C348.2 708.9 349.8 709.4 351.4 710.0C353.0 710.5 354.6 711.1 356.1 711.6C357.7 712.2 359.3 712.7 360.9 713.3C362.4 713.8 364.0 714.3 365.6 714.8C367.2 715.3 368.8 715.8 370.4 716.3C372.0 716.8 373.5 717.4 375.1 717.8C376.7 718.3 378.4 718.7 380.0 719.2C381.5 719.8 383.1 720.3 384.7 720.9C386.2 721.5 387.8 722.1 389.3 722.8C390.8 723.5 392.2 724.5 393.7 725.2C395.2 726.0 396.7 726.6 398.2 727.3C399.7 728.0 401.2 728.7 402.8 729.4C404.3 730.0 405.9 730.6 407.4 731.3C408.9 732.0 410.4 732.8 411.9 733.5C413.3 734.3 414.8 735.0 416.3 735.8C417.7 736.6 419.1 737.6 420.6 738.4C422.0 739.3 423.5 740.1 424.9 740.9C426.3 741.8 427.8 742.7 429.2 743.5C430.6 744.4 432.0 745.3 433.5 746.1C434.9 746.9 436.4 747.6 437.9 748.4C439.4 749.1 440.9 749.8 442.4 750.6C443.9 751.3 445.4 752.1 446.9 752.7C448.5 753.3 450.1 753.8 451.7 754.3C453.3 754.7 454.8 755.3 456.5 755.7C458.1 756.1 459.7 756.3 461.4 756.5C463.0 756.7 464.7 757.0 466.3 756.9C468.0 756.8 469.8 756.5 471.4 756.0C472.9 755.5 474.4 754.7 475.8 753.9C477.2 753.0 478.5 751.9 479.8 750.8C481.0 749.8 482.3 748.7 483.4 747.5C484.5 746.2 485.4 744.8 486.4 743.5C487.4 742.1 488.6 740.9 489.4 739.5C490.3 738.1 490.9 736.5 491.6 735.0C492.3 733.5 493.0 731.9 493.6 730.4C494.3 728.9 495.0 727.4 495.6 725.8C496.3 724.3 496.8 722.7 497.4 721.2C498.0 719.6 498.6 718.1 499.2 716.5C499.7 714.9 500.3 713.4 500.9 711.8C501.5 710.2 502.1 708.7 502.6 707.1C503.2 705.5 503.6 703.9 504.1 702.3C504.6 700.7 505.1 699.1 505.6 697.6C506.1 696.0 506.6 694.4 507.1 692.8C507.6 691.2 508.0 689.6 508.5 688.0C509.0 686.4 509.5 684.8 510.0 683.2C510.5 681.6 511.0 680.1 511.5 678.5C512.0 676.9 512.5 675.3 513.0 673.7C513.5 672.1 514.0 670.5 514.6 668.9C515.1 667.3 515.6 665.7 516.1 664.2C516.6 662.6 517.1 661.0 517.6 659.4C518.1 657.8 518.5 656.2 519.0 654.6C519.5 653.0 520.0 651.4 520.6 649.9C521.1 648.3 521.7 646.7 522.3 645.2C522.8 643.6 523.4 642.0 524.0 640.4C524.5 638.9 525.1 637.3 525.7 635.7C526.2 634.2 526.8 632.6 527.4 631.0C527.9 629.5 528.5 627.9 529.1 626.3C529.6 624.8 530.2 623.2 530.7 621.6C531.2 620.0 531.8 618.5 532.3 616.9C532.8 615.3 533.4 613.7 533.9 612.1C534.4 610.5 534.9 609.0 535.4 607.4C535.9 605.8 536.4 604.2 536.9 602.6C537.4 601.0 537.9 599.4 538.4 597.8C538.9 596.2 539.4 594.6 539.8 593.0C540.3 591.4 540.8 589.8 541.3 588.2C541.7 586.6 542.2 585.0 542.6 583.4C543.1 581.8 543.6 580.2 544.1 578.6C544.5 577.1 545.0 575.5 545.5 573.9C546.0 572.3 546.5 570.7 547.0 569.1C547.4 567.5 547.9 565.9 548.4 564.3C548.9 562.7 549.3 561.1 549.8 559.5C550.3 557.9 550.8 556.3 551.2 554.7C551.7 553.1 552.2 551.5 552.7 549.9C553.2 548.3 553.7 546.7 554.2 545.1C554.7 543.6 555.2 542.0 555.7 540.4C556.3 538.8 556.8 537.2 557.3 535.6C557.8 534.1 558.4 532.5 558.9 530.9C559.4 529.3 560.0 527.7 560.5 526.2C561.1 524.6 561.6 523.0 562.2 521.5C562.7 519.9 563.3 518.3 563.8 516.7C564.4 515.2 564.9 513.6 565.5 512.0C566.0 510.5 566.6 508.9 567.2 507.3C567.7 505.8 568.3 504.2 568.9 502.6C569.4 501.1 570.0 499.5 570.6 497.9C571.2 496.4 571.7 494.8 572.3 493.2C572.9 491.7 573.5 490.1 574.0 488.5C574.6 487.0 575.2 485.4 575.8 483.9C576.4 482.3 576.9 480.7 577.5 479.2C578.1 477.6 578.7 476.0 579.3 474.5C579.9 472.9 580.4 471.4 581.0 469.8C581.6 468.2 582.2 466.7 582.8 465.1C583.4 463.6 584.0 462.0 584.6 460.5C585.2 458.9 585.8 457.3 586.4 455.8C586.9 454.2 587.5 452.7 588.1 451.1C588.7 449.5 589.3 448.0 589.9 446.4C590.5 444.9 591.1 443.3 591.7 441.8C592.3 440.2 592.9 438.7 593.5 437.1C594.1 435.6 594.7 434.0 595.3 432.4C595.9 430.9 596.5 429.3 597.1 427.8C597.7 426.2 598.3 424.7 598.9 423.1C599.6 421.6 600.2 420.0 600.8 418.5C601.4 416.9 602.0 415.4 602.7 413.8C603.3 412.3 603.9 410.7 604.5 409.2C605.2 407.7 605.8 406.1 606.4 404.6C607.1 403.0 607.7 401.5 608.3 399.9C609.0 398.4 609.6 396.9 610.3 395.3C610.9 393.8 611.6 392.3 612.3 390.7C612.9 389.2 613.6 387.7 614.3 386.2C615.0 384.7 615.7 383.2 616.4 381.6C617.1 380.1 617.8 378.6 618.5 377.1C619.2 375.6 620.0 374.1 620.7 372.6C621.4 371.1 622.2 369.6 622.9 368.2C623.7 366.7 624.4 365.2 625.2 363.7C626.0 362.3 626.8 360.8 627.6 359.3C628.4 357.9 629.2 356.4 630.0 354.9C630.8 353.5 631.6 352.0 632.4 350.6C633.2 349.1 634.0 347.7 634.9 346.2C635.7 344.8 636.6 343.4 637.4 341.9C638.2 340.5 639.1 339.1 639.9 337.6C640.8 336.2 641.6 334.8 642.5 333.3C643.3 331.9 644.1 330.4 645.0 329.0C645.8 327.6 646.7 326.1 647.5 324.7C648.4 323.3 649.2 321.8 650.1 320.4C650.9 319.0 651.8 317.5 652.6 316.1C653.4 314.7 654.3 313.2 655.1 311.8C656.0 310.4 656.8 308.9 657.6 307.5C658.5 306.0 659.3 304.6 660.1 303.2C661.0 301.7 661.8 300.3 662.7 298.8C663.5 297.4 664.3 296.0 665.2 294.5C666.0 293.1 666.8 291.6 667.7 290.2C668.5 288.7 669.3 287.3 670.2 285.9C671.0 284.4 671.8 283.0 672.6 281.5C673.5 280.1 674.3 278.6 675.1 277.2C676.0 275.7 676.8 274.3 677.6 272.8C678.4 271.4 679.3 270.0 680.1 268.5C680.9 267.1 681.8 265.6 682.6 264.2C683.5 262.8 684.3 261.3 685.2 259.9C686.0 258.5 686.9 257.0 687.7 255.6C688.6 254.2 689.5 252.8 690.3 251.3C691.2 249.9 692.1 248.5 692.9 247.1C693.8 245.7 694.7 244.3 695.6 242.8C696.5 241.4 697.4 240.0 698.3 238.6C699.2 237.2 700.1 235.8 701.0 234.4C701.9 233.0 702.8 231.6 703.8 230.3C704.7 228.9 705.6 227.5 706.6 226.1C707.5 224.7 708.5 223.4 709.4 222.0C710.4 220.6 711.3 219.3 712.3 217.9C713.3 216.6 714.3 215.2 715.2 213.9C716.2 212.5 717.2 211.2 718.2 209.8C719.2 208.5 720.2 207.2 721.2 205.9C722.2 204.5 723.2 203.2 724.3 201.9C725.3 200.6 726.3 199.3 727.4 198.0C728.4 196.7 729.5 195.4 730.5 194.1C731.6 192.8 732.6 191.5 733.7 190.2C734.8 188.9 735.8 187.7 736.9 186.4C738.0 185.1 739.1 183.9 740.2 182.6C741.3 181.3 742.4 180.1 743.5 178.8C744.6 177.6 745.7 176.3 746.8 175.1C747.9 173.9 749.0 172.6 750.2 171.4C751.3 170.2 752.4 169.0 753.6 167.7C754.7 166.5 755.9 165.3 757.1 164.1C758.2 162.9 759.4 161.7 760.6 160.6C761.7 159.4 762.9 158.2 764.1 157.0C765.3 155.9 766.5 154.7 767.7 153.6C769.0 152.4 770.2 151.3 771.4 150.2C772.6 149.0 773.9 147.9 775.1 146.8C776.4 145.7 777.6 144.6 778.9 143.5C780.2 142.5 781.5 141.4 782.7 140.3C784.0 139.3 785.3 138.2 786.6 137.2C787.9 136.2 789.3 135.2 790.6 134.1C791.9 133.1 793.2 132.1 794.6 131.2C795.9 130.2 797.3 129.2 798.6 128.2C800.0 127.3 801.3 126.3 802.7 125.4C804.1 124.5 805.5 123.6 806.9 122.7C808.3 121.7 809.7 120.8 811.1 120.0C812.5 119.1 813.9 118.2 815.3 117.4C816.8 116.6 818.2 115.7 819.7 114.9C821.1 114.1 822.6 113.3 824.0 112.5C825.5 111.8 827.0 111.0 828.5 110.3C830.0 109.5 831.5 108.8 833.0 108.1C834.5 107.4 836.0 106.7 837.6 106.0C839.1 105.3 840.6 104.7 842.1 104.0C843.7 103.4 845.2 102.7 846.8 102.1C848.3 101.5 849.9 100.9 851.4 100.3C853.0 99.7 854.5 99.1 856.1 98.5C857.7 97.9 859.2 97.4 860.8 96.8C862.4 96.3 864.0 95.7 865.5 95.2C867.1 94.7 868.7 94.2 870.3 93.7C871.9 93.2 873.5 92.7 875.1 92.3C876.7 91.8 878.3 91.3 879.9 90.9C881.5 90.5 883.1 90.1 884.7 89.7C886.4 89.3 888.0 88.9 889.6 88.5C891.2 88.2 892.9 87.8 894.5 87.5C896.1 87.1 897.8 86.8 899.4 86.5C901.0 86.2 902.7 85.9 904.3 85.7C906.0 85.4 907.6 85.1 909.3 84.9C910.9 84.6 912.5 84.4 914.2 84.2C915.8 83.9 917.5 83.7 919.2 83.5C920.8 83.3 922.5 83.1 924.1 82.9C925.8 82.8 927.4 82.6 929.1 82.4C930.8 82.2 932.4 82.1 934.1 81.9C935.8 81.8 937.4 81.6 939.1 81.4C940.8 81.2 942.5 81.0 944.2 80.8C945.9 80.7 947.6 80.5 949.2 80.3C950.9 80.1 952.6 79.9 954.3 79.8C956.0 79.6 957.7 79.4 959.3 79.3C961.0 79.1 962.7 79.0 964.3 78.8C966.0 78.7 967.6 78.6 969.2 78.4C970.8 78.3 972.4 78.2 974.0 78.1C975.5 78.1 977.1 78.0 978.6 77.9C980.2 77.9 981.7 77.9 983.2 77.9C984.8 77.9 985.6 78.3 987.8 77.9C989.9 77.5 994.6 76.0 996.0 75.6L998.5 81.3L1004.2 78.9L1010.0 77.7L1017.5 78.7L1025.0 81.2L1032.5 77.5L1040.0 76.2L1050.0 79.2L1060.0 80.5L1065.5 78.0L1070.0 82.0L1077.5 81.2L1081.2 88.7L1091.2 90.0L1096.2 98.7C1097.7 99.1 1102.7 100.5 1105.0 101.2C1107.3 101.9 1108.2 102.2 1109.7 102.8C1111.3 103.3 1112.9 103.8 1114.5 104.3C1116.1 104.9 1117.6 105.4 1119.2 106.0C1120.8 106.5 1122.4 107.0 1123.9 107.6C1125.5 108.2 1127.0 108.9 1128.5 109.6C1130.1 110.3 1131.5 111.0 1133.1 111.6C1134.6 112.2 1136.2 112.7 1137.8 113.2C1139.4 113.7 1141.1 114.0 1142.7 114.4C1144.3 114.9 1145.9 115.4 1147.4 115.9C1149.0 116.4 1150.6 117.1 1152.1 117.6C1153.7 118.2 1155.3 118.8 1156.8 119.4C1158.4 120.0 1159.9 120.6 1161.5 121.2C1163.0 121.7 1164.6 122.3 1166.2 122.9C1167.8 123.4 1169.4 123.8 1171.0 124.3C1172.6 124.8 1174.2 125.2 1175.7 125.8C1177.3 126.4 1178.8 127.0 1180.4 127.7C1181.9 128.3 1183.4 129.1 1185.0 129.5C1186.6 129.9 1188.4 129.7 1190.0 129.8C1191.7 129.9 1193.3 130.1 1195.0 130.2C1196.7 130.3 1198.4 130.1 1200.0 130.5C1201.6 130.9 1203.0 131.9 1204.6 132.6C1206.1 133.2 1207.6 134.0 1209.1 134.6C1210.7 135.2 1212.2 135.8 1213.8 136.4C1215.3 137.0 1216.9 137.6 1218.5 138.1C1220.0 138.7 1221.6 139.2 1223.2 139.7C1224.8 140.2 1226.4 140.6 1228.0 141.1C1229.6 141.6 1231.3 142.0 1232.8 142.7C1234.3 143.4 1235.6 144.4 1237.0 145.3C1238.4 146.2 1239.8 147.1 1241.3 147.9C1242.7 148.8 1244.2 149.5 1245.7 150.3C1247.1 151.0 1248.7 151.8 1250.1 152.5C1251.6 153.3 1253.1 154.1 1254.5 154.9C1256.0 155.7 1257.4 156.5 1258.9 157.4C1260.3 158.2 1261.8 159.0 1263.1 160.0C1264.5 160.9 1265.8 162.0 1267.1 163.0C1268.4 164.0 1269.7 165.1 1271.1 166.0C1272.4 167.0 1273.8 168.0 1275.2 168.9C1276.5 169.9 1277.9 170.8 1279.3 171.7C1280.7 172.6 1282.1 173.5 1283.5 174.4C1284.9 175.4 1286.2 176.4 1287.6 177.4C1288.9 178.3 1290.4 179.2 1291.7 180.2C1293.1 181.1 1294.4 182.2 1295.7 183.2C1297.0 184.2 1298.3 185.2 1299.6 186.3C1300.9 187.4 1302.1 188.5 1303.3 189.7C1304.5 190.8 1305.6 192.1 1306.9 193.2C1308.1 194.3 1309.4 195.4 1310.7 196.4C1312.0 197.5 1313.4 198.4 1314.7 199.5C1316.0 200.5 1317.2 201.6 1318.5 202.7C1319.8 203.7 1321.2 204.7 1322.4 205.8C1323.7 206.8 1324.8 208.1 1326.0 209.2C1327.2 210.4 1328.3 211.6 1329.5 212.8C1330.7 214.0 1331.9 215.2 1333.1 216.3C1334.3 217.4 1335.6 218.5 1336.9 219.6C1338.1 220.7 1339.2 221.9 1340.5 222.9C1341.8 224.0 1343.3 224.8 1344.6 225.8C1346.0 226.9 1347.2 228.0 1348.4 229.1C1349.7 230.2 1350.9 231.3 1352.1 232.5C1353.3 233.6 1354.5 234.8 1355.7 236.0C1356.9 237.2 1358.1 238.3 1359.3 239.5C1360.5 240.6 1361.7 241.8 1362.9 242.9C1364.1 244.1 1365.3 245.2 1366.5 246.3C1367.7 247.5 1368.9 248.6 1370.2 249.8C1371.4 250.9 1372.6 252.1 1373.8 253.2C1375.0 254.4 1376.2 255.5 1377.4 256.7C1378.6 257.8 1379.8 259.0 1381.0 260.1C1382.2 261.3 1383.5 262.4 1384.7 263.6C1385.9 264.7 1387.1 265.8 1388.3 267.0C1389.5 268.1 1390.7 269.3 1391.9 270.4C1393.1 271.6 1394.3 272.7 1395.5 273.9C1396.8 275.0 1398.0 276.1 1399.2 277.3C1400.5 278.4 1401.8 279.4 1403.0 280.5C1404.3 281.6 1405.6 282.7 1406.8 283.7C1408.1 284.8 1409.4 285.9 1410.7 287.0C1411.9 288.1 1413.2 289.1 1414.5 290.2C1415.7 291.3 1417.0 292.4 1418.3 293.5C1419.5 294.5 1420.8 295.6 1422.1 296.7C1423.3 297.8 1424.6 298.9 1425.9 300.0C1427.1 301.1 1428.4 302.1 1429.6 303.2C1430.9 304.3 1432.7 305.9 1433.4 306.5C1434.2 307.1 1433.9 306.9 1434.0 307.0"/>
</defs>
<rect width="1455" height="1266" fill="#fff"/>
<use href="#ticks" fill="none" stroke="#000" stroke-width="7.4" stroke-opacity="0.38"/>
<use href="#ticks" fill="none" stroke="#000" stroke-width="4.6"/>
<use href="#frame" fill="none" stroke="#000" stroke-width="8.3" stroke-opacity="0.38"/>
<use href="#frame" fill="none" stroke="#000" stroke-width="5.7"/>
<use href="#c-black" fill="none" stroke="#000" stroke-width="8.2" stroke-opacity="0.38" stroke-linejoin="round"/>
<use href="#c-black" fill="none" stroke="#000" stroke-width="5.0" stroke-linejoin="round"/>
<use href="#c-green" fill="none" stroke="#0f0" stroke-width="8.2" stroke-opacity="0.38" stroke-linejoin="round"/>
<use href="#c-green" fill="none" stroke="#0f0" stroke-width="5.0" stroke-linejoin="round"/>
<use href="#c-blue" fill="none" stroke="#00f" stroke-width="8.2" stroke-opacity="0.38" stroke-linejoin="round"/>
<use href="#c-blue" fill="none" stroke="#00f" stroke-width="5.0" stroke-linejoin="round"/>
<use href="#c-red" fill="none" stroke="#f00" stroke-width="8.2" stroke-opacity="0.38" stroke-linejoin="round"/>
<use href="#c-red" fill="none" stroke="#f00" stroke-width="5.0" stroke-linejoin="round"/>
<g font-family="'Liberation Sans', Arial, Helvetica, sans-serif" fill="#000" stroke="#000" stroke-width="0.9" stroke-opacity="0.3">
<g font-size="57" text-anchor="end">
<text x="241.5" y="90.5">1.0</text>
<text x="241.5" y="575.5">0.5</text>
<text x="241.5" y="1061.5">0.0</text>
</g>
<g font-size="57" text-anchor="middle">
<text x="348.0" y="1118" textLength="93.2" lengthAdjust="spacingAndGlyphs">400</text>
<text x="658.7" y="1118" textLength="93.2" lengthAdjust="spacingAndGlyphs">600</text>
<text x="969.3" y="1118" textLength="93.2" lengthAdjust="spacingAndGlyphs">800</text>
<text x="1280.0" y="1118" textLength="124.3" lengthAdjust="spacingAndGlyphs">1000</text>
</g>
<text font-size="69" transform="translate(69.5 686.8) rotate(-90)" textLength="360" lengthAdjust="spacingAndGlyphs">Absorbance</text>
<text font-size="69" font-family="'Liberation Serif', 'DejaVu Serif', serif" transform="translate(821.9 1237) scale(1.1 0.905)">λ</text>
<text font-size="69" x="875.5" y="1237">(nm)</text>
</g>
</svg>
</body>
</html>
